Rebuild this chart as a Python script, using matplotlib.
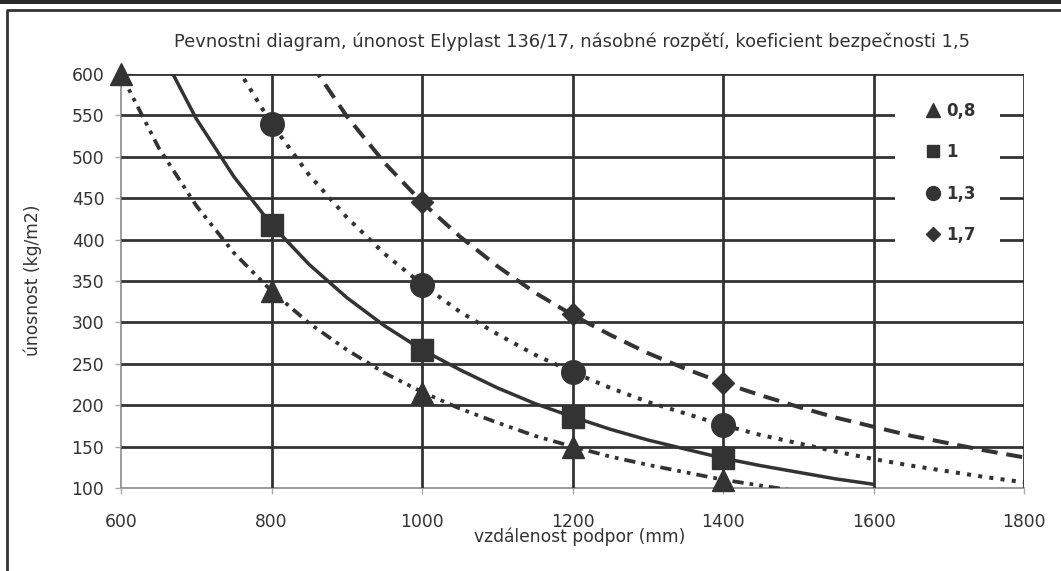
import matplotlib
matplotlib.use("Agg")
import matplotlib.pyplot as plt
from matplotlib.lines import Line2D

plt.rcParams['font.family'] = ['DejaVu Sans']

# ---------------- data ----------------
title = "Pevnostni diagram, únonost Elyplast 136/17, násobné rozpětí, koeficient bezpečnosti 1,5"
xlabel = "vzdálenost podpor (mm)"
ylabel = "únosnost (kg/m2)"
labels = ["0,8", "1", "1,3", "1,7"]

x_ticks = [600, 800, 1000, 1200, 1400, 1600, 1800]
y_ticks = [100, 150, 200, 250, 300, 350, 400, 450, 500, 550, 600]

# curves
x08 = [600, 650, 700, 750, 800, 850, 900, 950, 1000, 1050, 1100, 1150, 1200, 1250, 1300, 1350, 1400, 1450, 1500]
y08 = [600, 511, 441, 384, 338, 299, 267, 239, 216, 196, 179, 163, 150, 138, 128, 119, 110, 103, 96]

x10 = [600, 650, 700, 750, 800, 850, 900, 950, 1000, 1050, 1100, 1150, 1200, 1250, 1300, 1350, 1400, 1450, 1500, 1550, 1600]
y10 = [743, 633, 546, 476, 418, 370, 330, 296, 267, 243, 221, 202, 186, 171, 158, 147, 136, 127, 119, 111, 104.5]

x13 = [700, 750, 800, 850, 900, 950, 1000, 1050, 1100, 1150, 1200, 1250, 1300, 1350, 1400, 1450, 1500, 1550, 1600, 1650, 1700, 1750, 1800]
y13 = [705, 614, 540, 478, 427, 383, 346, 313, 286, 261, 240, 221, 204, 190, 176, 164, 154, 144, 135, 127, 120, 113, 107]

x17 = [800, 850, 900, 950, 1000, 1050, 1100, 1150, 1200, 1250, 1300, 1350, 1400, 1450, 1500, 1550, 1600, 1650, 1700, 1750, 1800]
y17 = [695, 616, 549, 493, 445, 404, 368, 336, 309, 285, 263, 244, 227, 212, 198, 185, 174, 163, 154, 145, 137]

# marked points
mx08 = [600, 800, 1000, 1200, 1400]
my08 = [600, 338, 215, 150, 110]
mx10 = [800, 1000, 1200, 1400]
my10 = [418, 267, 186, 136]
mx13 = [800, 1000, 1200, 1400]
my13 = [540, 345, 240, 176]
mx17 = [1000, 1200, 1400]
my17 = [445, 310, 227]

# ---------------- figure ----------------
W, H = 1061, 571
fig = plt.figure(figsize=(W / 100, H / 100), dpi=100)
fig.patch.set_facecolor('white')
dark = '#333333'
grey = '#8a8a8a'

ax = fig.add_axes([121 / W, 1 - 488 / H, (1024 - 121) / W, (488 - 74) / H])
ax.set_xlim(600, 1800)
ax.set_ylim(100, 600)
ax.set_xticks(x_ticks)
ax.set_yticks(y_ticks)
for s in ['top', 'right']:
    ax.spines[s].set_visible(False)
for s in ['left', 'bottom']:
    ax.spines[s].set_color(grey)
    ax.spines[s].set_linewidth(1.2)
    ax.spines[s].set_zorder(1)
ax.tick_params(axis='both', direction='out', length=4, width=1, color='#b0a8a8',
               labelsize=12.3, labelcolor=dark)
ax.tick_params(axis='x', pad=14)
ax.tick_params(axis='y', pad=8)

for yv in y_ticks[1:]:
    ax.axhline(yv, color=dark, lw=2.0, zorder=1.5)
for xv in x_ticks[1:]:
    ax.axvline(xv, color=dark, lw=2.0, zorder=1.5)

lw = 2.5
ax.plot(x08, y08, color=dark, lw=lw + 0.2, linestyle=(0, (3.0, 1.6, 1.0, 1.6, 1.0, 1.6)), zorder=3)
ax.plot(x10, y10, color=dark, lw=lw, linestyle='-', zorder=3)
ax.plot(x13, y13, color=dark, lw=lw + 0.4, linestyle=(0, (1.0, 1.8)), zorder=3)
ax.plot(x17, y17, color=dark, lw=lw + 0.4, linestyle=(0, (4, 2.2)), zorder=3)

ax.plot(mx08, my08, linestyle='none', marker='^', ms=16, color=dark, mec=dark, zorder=4, clip_on=False)
ax.plot(mx10, my10, linestyle='none', marker='s', ms=16, color=dark, mec=dark, zorder=4, clip_on=False)
ax.plot(mx13, my13, linestyle='none', marker='o', ms=17, color=dark, mec=dark, zorder=4, clip_on=False)
ax.plot(mx17, my17, linestyle='none', marker='D', ms=11.5, color=dark, mec=dark, zorder=4, clip_on=False)

# legend background (interrupts gridlines like the original)
ax.add_patch(plt.Rectangle(((895 - 121) / 903, (488 - 258) / 414), 105 / 903, 166 / 414,
                           transform=ax.transAxes, facecolor='white', edgecolor='none', zorder=2))

handles = [
    Line2D([], [], linestyle='none', marker='^', ms=10, color=dark),
    Line2D([], [], linestyle='none', marker='s', ms=9, color=dark),
    Line2D([], [], linestyle='none', marker='o', ms=10, color=dark),
    Line2D([], [], linestyle='none', marker='D', ms=7.5, color=dark),
]
leg = ax.legend(handles, labels, loc='upper left',
                bbox_to_anchor=(925 / W, 1 - 102 / H),
                bbox_transform=fig.transFigure, frameon=False,
                prop={'weight': 'bold', 'size': 12}, labelspacing=1.4,
                handlelength=1.0, handletextpad=0.3, borderpad=0.0, borderaxespad=0)
for t in leg.get_texts():
    t.set_color(dark)
leg.set_zorder(5)

fig.text(572 / W, 1 - 42 / H, title, ha='center', va='center', fontsize=12.9, color=dark)
fig.text(580 / W, 1 - 537 / H, xlabel, ha='center', va='center', fontsize=12.3, color=dark,
         bbox=dict(facecolor='white', edgecolor='none', pad=0.5))
fig.text(33 / W, 1 - 280 / H, ylabel, ha='center', va='center', rotation=90, fontsize=12.3, color=dark)

# outer frame
fig.add_artist(plt.Rectangle((0, 1 - 4 / H), 1, 4 / H, transform=fig.transFigure,
                             facecolor='#2a2a2a', edgecolor='none'))
fig.add_artist(Line2D([7 / W, 7 / W, 1], [0, 1 - 10 / H, 1 - 10 / H], transform=fig.transFigure,
                      color=dark, lw=2))

fig.savefig('out.png', dpi=100)
